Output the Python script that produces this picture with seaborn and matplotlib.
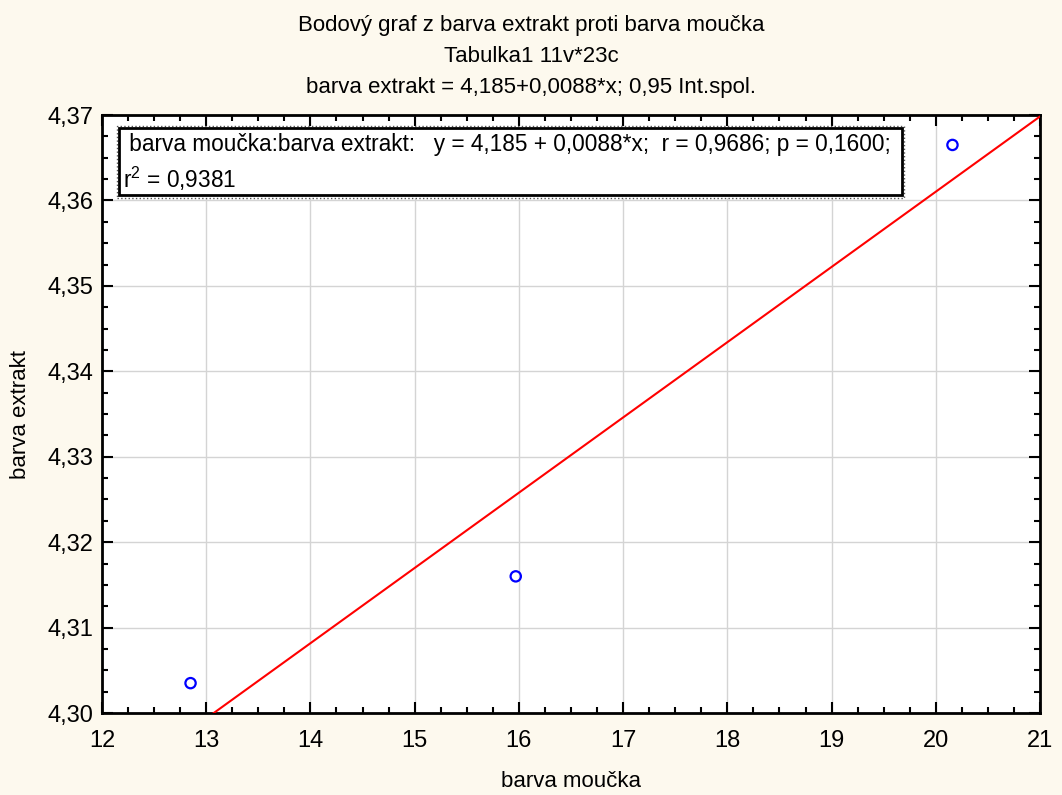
#scatter of extract colour vs flour colour with linear fit

import matplotlib
matplotlib.use('Agg')
import pandas as pd
import matplotlib.pyplot as plt
import seaborn as sns
from matplotlib.patches import Rectangle
from matplotlib.ticker import AutoMinorLocator

#data
barva_moucka = [12.85, 15.97, 20.16]
barva_extrakt = [4.3035, 4.3160, 4.3665]

x_ticks = [12, 13, 14, 15, 16, 17, 18, 19, 20, 21]
y_ticks = [4.30, 4.31, 4.32, 4.33, 4.34, 4.35, 4.36, 4.37]
y_tick_labels = ['4,30', '4,31', '4,32', '4,33', '4,34', '4,35', '4,36', '4,37']

title_lines = ['Bodový graf z barva extrakt proti barva moučka',
               'Tabulka1 11v*23c',
               'barva extrakt = 4,185+0,0088*x; 0,95 Int.spol.']
legend_text = ' barva moučka:barva extrakt:   y = 4,185 + 0,0088*x;  r = 0,9686; p = 0,1600;\nr$^2$ = 0,9381'

df = pd.DataFrame({'barva moučka': barva_moucka, 'barva extrakt': barva_extrakt})

sns.set_style('white')
plt.rcParams['font.family'] = ['Liberation Sans', 'DejaVu Sans']
plt.rcParams['mathtext.default'] = 'regular'
plt.rcParams['text.color'] = 'black'
plt.rcParams['axes.labelcolor'] = 'black'
plt.rcParams['xtick.color'] = 'black'
plt.rcParams['ytick.color'] = 'black'

bg = '#fdf9ee'
fig = plt.figure(figsize=(10.62, 7.95), dpi=100, facecolor=bg)
ax = fig.add_axes([0.0960, 0.1031, 0.8833, 0.7522])
ax.set_facecolor('white')

ax.set_xlim(12, 21)
ax.set_ylim(4.30, 4.37)

#regression line through the points, stretched over the whole axis
sns.regplot(data=df, x='barva moučka', y='barva extrakt', ax=ax,
            scatter=False, ci=None, truncate=False,
            line_kws={'color': '#ff0000', 'lw': 1.5, 'zorder': 3})

sns.scatterplot(data=df, x='barva moučka', y='barva extrakt', ax=ax,
                marker='o', s=55, facecolor='none', edgecolor='#0000ff',
                linewidth=1.6, zorder=4)

ax.set_xlim(12, 21)
ax.set_ylim(4.30, 4.37)

#ticks and grid
ax.set_xticks(x_ticks)
ax.set_xticklabels([str(t) for t in x_ticks])
ax.set_yticks(y_ticks)
ax.set_yticklabels(y_tick_labels)
ax.xaxis.set_minor_locator(AutoMinorLocator(4))
ax.yaxis.set_minor_locator(AutoMinorLocator(4))
ax.tick_params(which='both', direction='in', top=True, right=True,
               bottom=True, left=True, color='black', width=1.5)
ax.tick_params(which='major', length=8, labelsize=17)
ax.tick_params(axis='x', which='major', pad=12)
ax.tick_params(axis='y', which='major', pad=6)
ax.tick_params(which='minor', length=4)
ax.grid(True, which='major', color='#d4d4d4', lw=1)
ax.set_axisbelow(True)
for sp in ax.spines.values():
    sp.set_color('black')
    sp.set_linewidth(2)

ax.set_xlabel('barva moučka', fontsize=16, labelpad=14)
ax.set_ylabel('barva extrakt', fontsize=16, labelpad=12)

#three title lines
for i, line in enumerate(title_lines):
    fig.text(0.5, 1 - (25 + 31.5 * i) / 795, line, ha='center', va='center', fontsize=16)

#legend box with double border
ax.add_patch(Rectangle((0.0160, 0.862), 0.8390, 0.120, transform=ax.transAxes,
                       fill=True, facecolor='white', edgecolor='#555555',
                       lw=1, ls=':', zorder=5))
ax.add_patch(Rectangle((0.0185, 0.866), 0.8340, 0.112, transform=ax.transAxes,
                       fill=False, edgecolor='black', lw=2, zorder=6))
ax.text(0.022, 0.920, legend_text, transform=ax.transAxes, ha='left', va='center',
        fontsize=16.3, linespacing=1.4, zorder=7)

fig.savefig('out.png', dpi=100, facecolor=bg)
